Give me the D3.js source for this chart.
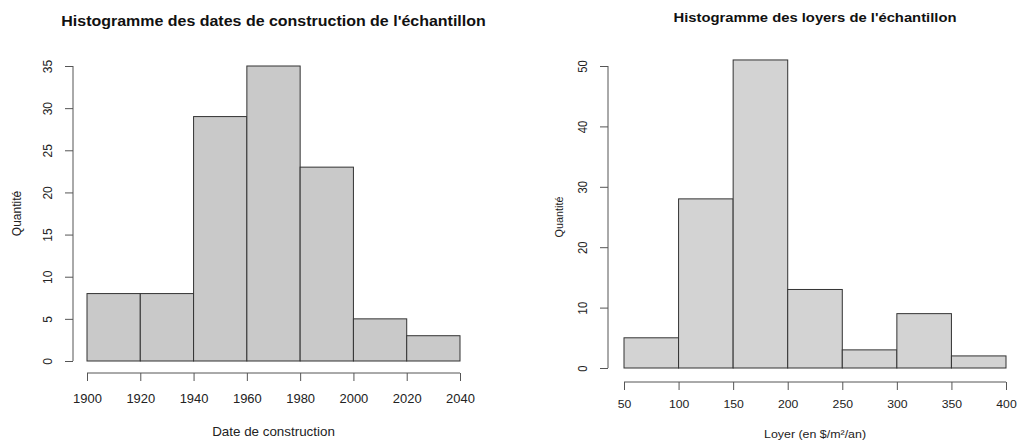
<!DOCTYPE html>
<html>
<head>
<meta charset="utf-8">
<script src="https://cdn.jsdelivr.net/npm/d3@7"></script>
<style>
  body { margin: 0; background: #fff; }
  svg { display: block; font-family: "Liberation Sans", Arial, Helvetica, sans-serif; }
</style>
</head>
<body>
<svg id="chart" width="1017" height="441"></svg>
<script>
// Construction dates: bin edges and counts
const dateBreaks = [1900, 1920, 1940, 1960, 1980, 2000, 2020, 2040];
const dateCounts = [8, 8, 29, 35, 23, 5, 3];
const dateYTicks = [0, 5, 10, 15, 20, 25, 30, 35];

// Rents: bin edges and counts
const rentBreaks = [50, 100, 150, 200, 250, 300, 350, 400];
const rentCounts = [5, 28, 51, 13, 3, 9, 2];
const rentYTicks = [0, 10, 20, 30, 40, 50];

// Text is drawn slightly widened horizontally
const SX = 1.08;

const svg = d3.select("#chart");

function label(parent, x, y, txt, size, opts = {}) {
  const t = parent.append("text")
    .attr("transform", `translate(${x},${y}) scale(${SX},1)` + (opts.rotate ? " rotate(-90)" : ""))
    .attr("text-anchor", "middle")
    .attr("font-size", size)
    .attr("fill", opts.fill || "#222")
    .text(txt);
  if (opts.bold) t.attr("font-weight", "bold");
  return t;
}

function histogram(cfg) {
  const g = svg.append("g");
  const x = d3.scaleLinear().domain([cfg.breaks[0], cfg.breaks[cfg.breaks.length - 1]]).range([cfg.x0, cfg.x1]);
  const y = d3.scaleLinear().domain([0, cfg.yTicks[cfg.yTicks.length - 1]]).range([cfg.y0, cfg.y1]);

  const bins = cfg.counts.map((c, i) => ({ lo: cfg.breaks[i], hi: cfg.breaks[i + 1], n: c }));
  g.selectAll("rect.bar").data(bins).join("rect")
    .attr("class", "bar")
    .attr("x", d => x(d.lo))
    .attr("width", d => x(d.hi) - x(d.lo))
    .attr("y", d => y(d.n))
    .attr("height", d => y(0) - y(d.n))
    .attr("fill", cfg.fill)
    .attr("stroke", "#333")
    .attr("stroke-width", 1);

  // x axis, detached below the bars
  const xa = g.append("g")
    .attr("transform", `translate(0,${cfg.xAxisY})`)
    .call(d3.axisBottom(x).tickValues(cfg.breaks).tickSize(cfg.tickLen).tickFormat(d3.format("d")));
  xa.select(".domain").attr("stroke", "#555").attr("d", `M${cfg.x0},0H${cfg.x1}`);
  xa.selectAll(".tick line").attr("stroke", "#555");
  xa.selectAll(".tick text").remove();
  xa.selectAll(".tick").each(function (d) {
    label(d3.select(this), 0, cfg.xLabBase, d3.format("d")(d), cfg.tickFont);
  });

  // y axis, detached to the left, labels rotated
  const ya = g.append("g")
    .attr("transform", `translate(${cfg.yAxisX},0)`)
    .call(d3.axisLeft(y).tickValues(cfg.yTicks).tickSize(cfg.tickLen).tickFormat(d3.format("d")));
  ya.select(".domain").attr("stroke", "#555").attr("d", `M0,${cfg.y0}V${cfg.y1}`);
  ya.selectAll(".tick line").attr("stroke", "#555");
  ya.selectAll(".tick text").remove();
  ya.selectAll(".tick").each(function (d) {
    label(d3.select(this), -cfg.yLabOff, 0, d3.format("d")(d), cfg.tickFont, { rotate: true });
  });

  label(svg, (cfg.x0 + cfg.x1) / 2, cfg.titleY, cfg.title, cfg.titleFont, { bold: true, fill: "#111" });
  label(svg, (cfg.x0 + cfg.x1) / 2, cfg.xTitleY, cfg.xTitle, cfg.labFont);
  label(svg, cfg.yTitleX, (cfg.y0 + cfg.y1) / 2, "Quantité", cfg.yLabFont, { rotate: true });
}

histogram({
  breaks: dateBreaks, counts: dateCounts, yTicks: dateYTicks,
  x0: 87, x1: 460, y0: 361, y1: 66,
  xAxisY: 373, yAxisX: 73, tickLen: 8, xLabBase: 30, yLabOff: 21,
  fill: "#c9c9c9", tickFont: 12, labFont: 12.4, yLabFont: 12, titleFont: 14.8,
  title: "Histogramme des dates de construction de l'échantillon", titleY: 26,
  xTitle: "Date de construction", xTitleY: 436, yTitleX: 21
});

histogram({
  breaks: rentBreaks, counts: rentCounts, yTicks: rentYTicks,
  x0: 624, x1: 1006, y0: 368, y1: 66,
  xAxisY: 382, yAxisX: 608, tickLen: 8, xLabBase: 26, yLabOff: 21,
  fill: "#d3d3d3", tickFont: 11.3, labFont: 11.5, yLabFont: 10.8, titleFont: 13.7,
  title: "Histogramme des loyers de l'échantillon", titleY: 22,
  xTitle: "Loyer (en $/m²/an)", xTitleY: 438, yTitleX: 563
});
</script>
</body>
</html>
